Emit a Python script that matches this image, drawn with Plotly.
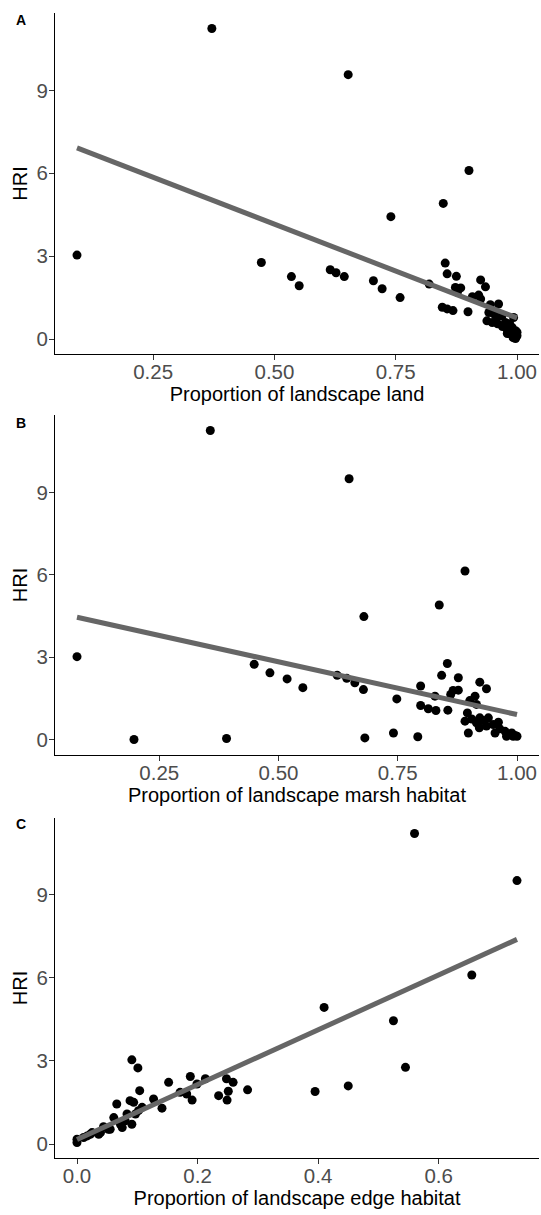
import numpy as np
import plotly.graph_objects as go

# ---------------- data ----------------
land_x = [0.093, 0.371, 0.473, 0.535, 0.551, 0.615, 0.627, 0.644, 0.652, 0.704,
          0.722, 0.740, 0.759, 0.819, 0.848, 0.901, 0.852, 0.856, 0.875, 0.873,
          0.884, 0.877, 0.925, 0.935, 0.908, 0.921, 0.925, 0.846, 0.856, 0.868,
          0.899, 0.945, 0.962, 0.942, 0.938, 0.949, 0.959, 0.969, 0.952, 0.976,
          0.983, 0.990, 0.993, 0.997, 1.000, 0.997, 0.986, 0.979,
          0.985, 0.990, 0.995, 0.998, 0.970, 0.960, 0.980, 0.992, 1.000]
land_y = [3.04, 11.24, 2.77, 2.26, 1.93, 2.51, 2.40, 2.26, 9.57, 2.11,
          1.82, 4.43, 1.50, 1.99, 4.91, 6.10, 2.75, 2.36, 2.27, 1.87,
          1.85, 1.69, 2.14, 1.89, 1.53, 1.59, 1.45, 1.15, 1.09, 1.03,
          0.99, 1.24, 1.27, 0.96, 0.66, 0.60, 0.78, 0.84, 0.91, 0.60,
          0.48, 0.42, 0.78, 0.30, 0.12, 0.02, 0.24, 0.36,
          0.55, 0.30, 0.15, 0.08, 0.45, 0.55, 0.20, 0.05, 0.25]

marsh_x = [0.0775, 0.197, 0.391, 0.357, 0.449, 0.482, 0.518, 0.551, 0.623, 0.643,
           0.660, 0.678, 0.681, 0.648, 0.679, 0.741, 0.748, 0.792, 0.837, 0.891,
           0.798, 0.798, 0.814, 0.830, 0.828, 0.842, 0.854, 0.855, 0.861, 0.866,
           0.877, 0.877, 0.922, 0.936, 0.896, 0.901, 0.912, 0.915, 0.891, 0.898,
           0.905, 0.915, 0.922, 0.929, 0.940, 0.921, 0.936, 0.950, 0.961, 0.954,
           0.964, 0.975, 0.978, 0.989, 0.996, 1.000, 0.992]
marsh_y = [3.02, 0.00, 0.04, 11.26, 2.74, 2.43, 2.21, 1.89, 2.34, 2.23,
           2.07, 1.82, 0.06, 9.50, 4.48, 0.24, 1.48, 0.10, 4.90, 6.14,
           1.95, 1.24, 1.12, 1.06, 1.58, 2.34, 2.77, 1.07, 1.64, 1.79,
           1.80, 2.25, 2.09, 1.85, 0.97, 1.42, 1.58, 1.28, 0.67, 0.24,
           0.75, 0.61, 0.79, 0.69, 0.79, 0.43, 0.49, 0.55, 0.63, 0.24,
           0.39, 0.30, 0.12, 0.24, 0.15, 0.12, 0.12]

edge_x = [0.000, 0.000, 0.011, 0.017, 0.022, 0.025, 0.036, 0.039, 0.044, 0.052,
          0.055, 0.061, 0.066, 0.072, 0.075, 0.080, 0.083, 0.088, 0.091, 0.091,
          0.094, 0.097, 0.101, 0.102, 0.104, 0.108, 0.127, 0.141, 0.152, 0.171,
          0.182, 0.188, 0.191, 0.199, 0.213, 0.235, 0.248, 0.251, 0.249, 0.259,
          0.283, 0.395, 0.410, 0.450, 0.525, 0.545, 0.560, 0.655, 0.730]
edge_y = [0.06, 0.18, 0.24, 0.30, 0.36, 0.42, 0.36, 0.42, 0.63, 0.54,
          0.54, 0.96, 1.45, 0.72, 0.60, 0.84, 1.09, 1.57, 3.04, 0.72,
          1.51, 1.09, 2.75, 1.21, 1.93, 1.33, 1.63, 1.30, 2.23, 1.87,
          1.81, 2.44, 1.59, 2.17, 2.36, 1.75, 2.36, 1.91, 1.59, 2.23,
          1.96, 1.90, 4.93, 2.10, 4.45, 2.77, 11.20, 6.10, 9.50]

x_titles = ["Proportion of landscape land",
            "Proportion of landscape marsh habitat",
            "Proportion of landscape edge habitat"]
panel_tags = ["A", "B", "C"]
x_tickvals = [[0.25, 0.50, 0.75, 1.00], [0.25, 0.50, 0.75, 1.00], [0.0, 0.2, 0.4, 0.6]]
x_ticktext = [["0.25", "0.50", "0.75", "1.00"], ["0.25", "0.50", "0.75", "1.00"],
              ["0.0", "0.2", "0.4", "0.6"]]
y_tickvals = [0, 3, 6, 9]
y_title = "HRI"

panels = [(land_x, land_y), (marsh_x, marsh_y), (edge_x, edge_y)]

# ---------------- layout geometry (pixels) ----------------
W, H = 541, 1215
x_px = (55, 539)
y_px = [(13, 354), (415, 755), (818, 1158)]
tag_y_px = [20, 423, 824]

FONT = "Liberation Sans, Arial, sans-serif"

fig = go.Figure()


def expand(vals, frac=0.05):
    lo, hi = min(vals), max(vals)
    d = (hi - lo) * frac
    return [lo - d, hi + d]


for i, (xs, ys) in enumerate(panels):
    n = i + 1
    xa = "x" if n == 1 else f"x{n}"
    ya = "y" if n == 1 else f"y{n}"
    # linear fit (like geom_smooth(method = "lm", se = FALSE))
    slope, intercept = np.polyfit(xs, ys, 1)
    fx = np.array([min(xs), max(xs)])
    fig.add_trace(go.Scatter(x=xs, y=ys, mode="markers",
                             marker=dict(color="black", size=9),
                             xaxis=xa, yaxis=ya, showlegend=False, hoverinfo="skip"))
    fig.add_trace(go.Scatter(x=fx, y=intercept + slope * fx, mode="lines",
                             line=dict(color="#666666", width=5),
                             xaxis=xa, yaxis=ya, showlegend=False, hoverinfo="skip"))

    top, bot = y_px[i]
    dom_y = [1 - bot / H, 1 - top / H]
    dom_x = [x_px[0] / W, x_px[1] / W]
    axis_common = dict(showline=True, linecolor="black", linewidth=1,
                       ticks="outside", ticklen=5, tickcolor="#333333", tickwidth=1,
                       showgrid=False, zeroline=False, automargin=False,
                       tickfont=dict(family=FONT, size=20.5, color="#4D4D4D"))
    xkey = "xaxis" if n == 1 else f"xaxis{n}"
    ykey = "yaxis" if n == 1 else f"yaxis{n}"
    fig.update_layout(**{
        xkey: dict(domain=dom_x, anchor=ya, range=expand(xs),
                   tickvals=x_tickvals[i], ticktext=x_ticktext[i],
                   ticklabelstandoff=-6,
                   title=dict(text=x_titles[i], standoff=2,
                              font=dict(family=FONT, size=20, color="black")),
                   **axis_common),
        ykey: dict(domain=dom_y, anchor=xa, range=expand(ys),
                   tickvals=y_tickvals, ticktext=[str(v) for v in y_tickvals],
                   ticklabelstandoff=-3,
                   title=dict(text=y_title, standoff=3,
                              font=dict(family=FONT, size=20, color="black")),
                   **axis_common),
    })
    fig.add_annotation(text=f"<b>{panel_tags[i]}</b>", xref="paper", yref="paper",
                       x=14 / W, y=1 - tag_y_px[i] / H, xanchor="left", yanchor="middle",
                       showarrow=False, font=dict(family=FONT, size=14, color="black"))

fig.update_layout(width=W, height=H, margin=dict(l=0, r=0, t=0, b=0),
                  paper_bgcolor="white", plot_bgcolor="white")

fig.write_html("out.html", config={"displayModeBar": False},
               post_script="document.body.style.margin='0';"
                           "document.body.style.padding='0';"
                           "document.body.style.overflow='hidden';")
